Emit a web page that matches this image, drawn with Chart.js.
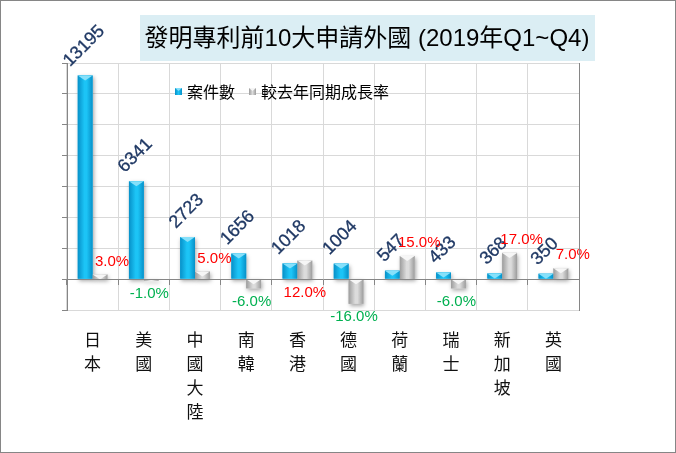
<!DOCTYPE html>
<html><head><meta charset="utf-8">
<script src="https://cdn.jsdelivr.net/npm/chart.js@4/dist/chart.umd.min.js"></script>
<style>html,body{margin:0;padding:0;background:#fff;}#wrap{width:676px;height:453px;position:relative;}</style>
</head><body><div id="wrap"><canvas id="c"></canvas></div>
<script>
const titleText = '發明專利前10大申請外國 (2019年Q1~Q4)';
const categories = ['日本','美國','中國大陸','南韓','香港','德國','荷蘭','瑞士','新加坡','英國'];
const seriesNames = ['案件數','較去年同期成長率'];
const counts = [13195, 6341, 2723, 1656, 1018, 1004, 547, 433, 368, 350];
const growthPct = [3.0, -1.0, 5.0, -6.0, 12.0, -16.0, 15.0, -6.0, 17.0, 7.0];
const countAxisMin = -2000, countAxisMax = 14000, countAxisStep = 2000;
const pctAxisMin = -20, pctAxisMax = 140;

const LATIN = '"Liberation Sans", Arial, "Noto Sans CJK TC", sans-serif';
const CJK = '"Noto Sans CJK TC", "Liberation Sans", sans-serif';
const palettes = [
  {edge:'#0790C8', mid:'#1CC4F6', cap:'#86E0FA', legend:'#12B4EA'},
  {edge:'#9C9C9C', mid:'#DCDCDC', cap:'#F6F6F6', legend:'#BDBDBD'}
];

function barBox(el){
  const p = el.getProps(['x','y','base','width'], true);
  const l = p.x - p.width/2, r = p.x + p.width/2;
  const t = Math.min(p.y, p.base), b = Math.max(p.y, p.base);
  return {x:p.x, y:p.y, base:p.base, l, r, t, b, w:p.width};
}

const deco = {
  id:'deco',
  beforeDraw(chart){
    const ctx = chart.ctx;
    ctx.save();
    ctx.fillStyle = '#fff';
    ctx.fillRect(0,0,chart.width,chart.height);
    ctx.font = '24px ' + LATIN;
    const w = ctx.measureText(titleText).width;
    const cx = 367, cy = 39;
    ctx.fillStyle = '#DBEEF4';
    ctx.fillRect(Math.round(cx - w/2 - 5), 15, Math.round(w + 10), 46);
    ctx.fillStyle = '#000';
    ctx.textAlign = 'center';
    ctx.textBaseline = 'middle';
    ctx.fillText(titleText, cx, cy);
    ctx.restore();
  },
  beforeDatasetsDraw(chart){
    const ctx = chart.ctx;
    ctx.save();
    ctx.shadowColor = 'rgba(0,0,0,0.35)';
    ctx.shadowBlur = 4;
    ctx.shadowOffsetX = 1;
    ctx.shadowOffsetY = 2;
    ctx.fillStyle = '#fff';
    chart.data.datasets.forEach((ds, di) => {
      chart.getDatasetMeta(di).data.forEach(el => {
        const bx = barBox(el);
        ctx.fillRect(bx.l, bx.t, bx.w, bx.b - bx.t);
      });
    });
    ctx.restore();
  },
  afterDatasetsDraw(chart, args, opts){
    const ctx = chart.ctx;
    const below = opts.pctBelowAxis || [];
    ctx.save();
    chart.data.datasets.forEach((ds, di) => {
      const pal = palettes[di];
      chart.getDatasetMeta(di).data.forEach(el => {
        const bx = barBox(el);
        const g = ctx.createLinearGradient(bx.l, 0, bx.r, 0);
        g.addColorStop(0, pal.edge); g.addColorStop(0.45, pal.mid); g.addColorStop(0.6, pal.mid); g.addColorStop(1, pal.edge);
        ctx.fillStyle = g;
        ctx.fillRect(bx.l, bx.t, bx.w, bx.b - bx.t);
        const bh = Math.min(5, bx.b - bx.t);
        ctx.fillStyle = pal.cap;
        ctx.beginPath();
        ctx.moveTo(bx.l, bx.t); ctx.lineTo(bx.r, bx.t); ctx.lineTo(bx.x, bx.t + bh); ctx.closePath();
        ctx.fill();
      });
    });
    ctx.font = '18px ' + LATIN;
    ctx.fillStyle = '#1F3864';
    ctx.strokeStyle = '#1F3864';
    ctx.lineWidth = 0.3;
    ctx.textAlign = 'center';
    ctx.textBaseline = 'middle';
    chart.getDatasetMeta(0).data.forEach((el, i) => {
      const bx = barBox(el);
      const txt = String(counts[i]);
      const w = ctx.measureText(txt).width;
      const ext = (w + 13) * 0.7071;
      ctx.save();
      ctx.translate(bx.x - 1, bx.t - 7 - ext/2);
      ctx.rotate(-Math.PI/4);
      ctx.fillText(txt, 0, 0);
      ctx.strokeText(txt, 0, 0);
      ctx.restore();
    });
    ctx.font = '15px ' + LATIN;
    chart.getDatasetMeta(1).data.forEach((el, i) => {
      const bx = barBox(el);
      const v = growthPct[i];
      const txt = v.toFixed(1) + '%';
      if (v >= 0) {
        ctx.fillStyle = '#FF0000';
        if (below.includes(i)) ctx.fillText(txt, bx.x, bx.base + 14);
        else ctx.fillText(txt, bx.x + 12, bx.t - 13);
      } else {
        ctx.fillStyle = '#00B050';
        ctx.fillText(txt, bx.x - 2, bx.b + 13);
      }
    });
    ctx.restore();
  },
  afterDraw(chart){
    const ctx = chart.ctx;
    ctx.save();
    ctx.font = '16px ' + CJK;
    ctx.textBaseline = 'middle';
    ctx.textAlign = 'left';
    let x = 175; const y = 92;
    chart.data.datasets.forEach((ds, di) => {
      const pal = palettes[di];
      const g = ctx.createLinearGradient(x, 0, x + 7, 0);
      g.addColorStop(0, pal.edge); g.addColorStop(0.5, pal.mid); g.addColorStop(1, pal.edge);
      ctx.fillStyle = g;
      ctx.fillRect(x, y - 4, 7, 7);
      ctx.fillStyle = pal.cap;
      ctx.beginPath(); ctx.moveTo(x, y - 4); ctx.lineTo(x + 7, y - 4); ctx.lineTo(x + 3.5, y - 1); ctx.closePath(); ctx.fill();
      ctx.fillStyle = '#000';
      ctx.fillText(ds.label, x + 12, y);
      x += 12 + ctx.measureText(ds.label).width + 14;
    });
    ctx.strokeStyle = '#868686';
    ctx.lineWidth = 1;
    ctx.strokeRect(0.5, 0.5, chart.width - 1, chart.height - 1);
    ctx.restore();
  }
};

new Chart(document.getElementById('c'), {
  type: 'bar',
  data: {
    labels: categories.map(s => s.split('')),
    datasets: [
      {label: seriesNames[0], data: counts, yAxisID: 'y', xAxisID: 'x', backgroundColor: palettes[0].legend, borderWidth: 0},
      {label: seriesNames[1], data: growthPct, yAxisID: 'y1', xAxisID: 'x', backgroundColor: palettes[1].legend, borderWidth: 0}
    ]
  },
  options: {
    responsive: true, maintainAspectRatio: false, animation: false,
    categoryPercentage: 0.58, barPercentage: 1.0,
    layout: {padding: {left: 62, right: 89, top: 63, bottom: 11}},
    plugins: {legend: {display: false}, title: {display: false}, tooltip: {enabled: false},
              deco: {pctBelowAxis: [4]}},
    scales: {
      x: {
        position: 'bottom',
        grid: {color: '#D9D9D9', drawTicks: false, offset: true},
        border: {display: false},
        ticks: {padding: 18, color: '#111', autoSkip: false, maxRotation: 0,
                font: {family: CJK, size: 17, lineHeight: '24px'}}
      },
      x2: {
        type: 'category', position: {y: 0}, offset: true,
        grid: {display: true, drawOnChartArea: false, offset: true, tickLength: 5, tickColor: '#868686'},
        border: {color: '#868686', z: 1},
        ticks: {display: false}
      },
      y: {
        position: 'left', min: countAxisMin, max: countAxisMax,
        ticks: {display: false, stepSize: countAxisStep},
        grid: {color: '#D9D9D9', tickColor: '#868686', tickLength: 5},
        border: {color: '#868686', z: 1}
      },
      y1: {
        position: 'right', min: pctAxisMin, max: pctAxisMax,
        ticks: {display: false},
        grid: {display: false},
        border: {color: '#868686', z: 1}
      }
    }
  },
  plugins: [deco]
});
</script>
</body></html>
